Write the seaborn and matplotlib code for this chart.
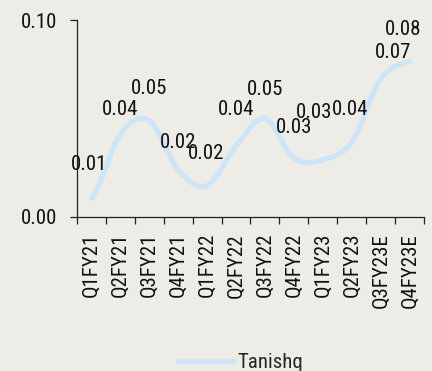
import numpy as np
import pandas as pd
import matplotlib
matplotlib.use("Agg")
import matplotlib.pyplot as plt
from matplotlib import font_manager as fm
import seaborn as sns

# ---- data ----
quarters = ["Q1FY21", "Q2FY21", "Q3FY21", "Q4FY21", "Q1FY22", "Q2FY22",
            "Q3FY22", "Q4FY22", "Q1FY23", "Q2FY23", "Q3FY23E", "Q4FY23E"]
values = [0.0095, 0.042, 0.049, 0.024, 0.016, 0.036,
          0.050, 0.030, 0.029, 0.038, 0.070, 0.079]
series_name = "Tanishq"
y_ticks = [0.00, 0.10]
y_tick_labels = ["0.00", "0.10"]

# label offsets (points) - styling only
label_dx = [-2, 0, 0, 0, -1, 0, 0, 0, -6, -1, 9, -4.7]
label_dy = [24.5, 18, 22.7, 19.4, 22.7, 26.6, 21.2, 21.6, 33.8, 23.8, 19.4, 23]

BG = "#EEECE6"
LINE = "#CDE4F9"
FS = 15

sns.set_theme(style="white")
available = {f.name for f in fm.fontManager.ttflist}
prefs = ["Roboto Condensed", "Archivo Narrow", "Barlow Condensed",
         "Asap Condensed", "Liberation Sans Narrow"]
chosen = [p for p in prefs if p in available][:1]
plt.rcParams["font.family"] = chosen + ["DejaVu Sans"]


def catmull_rom(y, n=40):
    y = np.asarray(y, dtype=float)
    p = np.r_[y[0], y, y[-1]]
    xs, ys = [], []
    for i in range(len(y) - 1):
        p0, p1, p2, p3 = p[i], p[i + 1], p[i + 2], p[i + 3]
        t = np.linspace(0, 1, n, endpoint=(i == len(y) - 2))
        yy = 0.5 * (2 * p1 + (-p0 + p2) * t
                    + (2 * p0 - 5 * p1 + 4 * p2 - p3) * t ** 2
                    + (-p0 + 3 * p1 - 3 * p2 + p3) * t ** 3)
        xs.append(i + t)
        ys.append(yy)
    return np.concatenate(xs), np.concatenate(ys)


sx, sy = catmull_rom(values)
df = pd.DataFrame({"x": sx, "y": sy, "series": series_name})

fig = plt.figure(figsize=(4.32, 3.71), dpi=100, facecolor=BG)
ax = fig.add_axes([77 / 432, 1 - 217 / 371, 347 / 432, 197 / 371])
ax.set_facecolor(BG)

sns.lineplot(data=df, x="x", y="y", hue="series", palette=[LINE],
             sort=False, linewidth=3.7, ax=ax, legend=True)

for i, v in enumerate(values):
    ax.annotate(f"{v:.2f}", xy=(i, v), xytext=(label_dx[i], label_dy[i]),
                textcoords="offset points", ha="center", va="center",
                fontsize=FS, color="#111111")

ax.set_xlim(-0.5, len(quarters) - 0.5)
ax.set_ylim(0, 0.10)
ax.set_yticks(y_ticks)
ax.set_yticklabels(y_tick_labels, fontsize=FS, color="#111111")
ax.set_xticks(np.arange(-0.5, len(quarters), 1.0))
ax.set_xticklabels([])
ax.set_xticks(np.arange(len(quarters)), minor=True)
ax.set_xticklabels(quarters, minor=True, rotation=90, fontsize=FS, color="#111111")
ax.tick_params(axis="x", which="major", direction="out", length=5, width=0.9,
               color="#222222", bottom=True)
ax.tick_params(axis="x", which="minor", length=0, pad=11.5, bottom=True)
ax.tick_params(axis="y", direction="out", length=5, width=0.9, color="#222222",
               pad=9.4, left=True)
ax.set_xlabel("")
ax.set_ylabel("")
for s in ["top", "right"]:
    ax.spines[s].set_visible(False)
for s in ["left", "bottom"]:
    ax.spines[s].set_color("#222222")
    ax.spines[s].set_linewidth(0.9)

handles, labels = ax.get_legend_handles_labels()
ax.get_legend().remove()
fig.legend(handles, labels, loc="lower center", bbox_to_anchor=(241 / 432, -0.053),
           frameon=False, fontsize=FS, handlelength=2.65, handletextpad=0.2)

fig.savefig("out.png", dpi=100, facecolor=BG)
